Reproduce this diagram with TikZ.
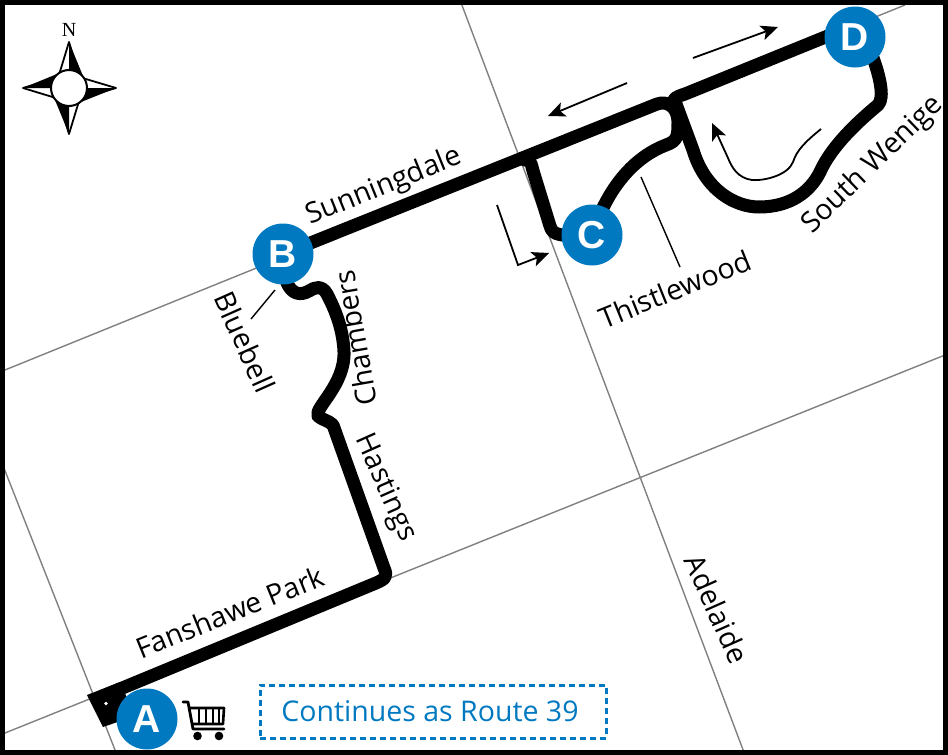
\documentclass[tikz,border=0pt]{standalone}
\usepackage{fontspec}
\setmainfont{Open Sans}
\newfontfamily\stopfont{Liberation Sans}
\newfontfamily\compassfont{Liberation Serif}
\usepackage{tikz}
\usetikzlibrary{arrows.meta}
\definecolor{routeblue}{HTML}{0079C1}

\begin{document}
\begin{tikzpicture}[
    x=1pt, y=-1pt,
    >={Stealth[length=17pt, width=15pt, inset=4pt]},
    road/.style={draw=black!50, line width=1.4pt},
    route/.style={draw, line width=13pt, line join=round, line cap=round},
    thin arrow/.style={draw, line width=1.8pt, ->},
    leader/.style={draw, line width=1.4pt},
    stopdot/.style={circle, fill=routeblue, text=white, minimum size=61pt, inner sep=0pt,
      font=\stopfont\fontsize{39}{39}\selectfont\bfseries},
    street/.style={font=\fontsize{28.5}{28.5}\selectfont, inner sep=0pt},
  ]
  \useasboundingbox (0,0) rectangle (948,755);

  %% --- Streets (grey lines) ---
  \draw[road] (0,372) -- (905,5);
  \draw[road] (0,735) -- (945,355);
  \draw[road] (460,0) -- (745,755);
  \draw[road] (0,458) -- (117,755);

  %% --- Route coordinates ---
  \coordinate (Apos) at (147,719);
  \coordinate (Bpos) at (283,254);
  \coordinate (Cpos) at (592,235);
  \coordinate (Dpos) at (855,37);
  \coordinate (start) at (103,696);
  \coordinate (parkend) at (376,583);
  \coordinate (hastop) at (333,425);
  \coordinate (junction) at (525,160);
  \coordinate (Dline) at (850,27);

  %% --- Route (thick line) ---
  % A to B
  \draw[route] (start) -- (parkend)
    .. controls (385,579) and (388,577) .. (384,568) -- (hastop)
    .. controls (328,420) and (322,420) .. (318,416)
    .. controls (314,408) and (345,385) .. (344,352)
    .. controls (343,325) and (332,304) .. (327,294)
    .. controls (322,285) and (315,287) .. (309,291)
    .. controls (300,296) and (292,294) .. (287,283) -- (Bpos);
  % B to D, with the step at the loop
  \draw[route] (Bpos) -- (657,104)
    .. controls (668,100) and (678,108) .. (678,122)
    .. controls (678,135) and (678,141) .. (666,145)
    .. controls (640,155) and (610,180) .. (Cpos);
  \draw[route] (673,106) .. controls (672,98) and (676,97) .. (685,94) -- (Dline);
  % C spur
  \draw[route] (junction) .. controls (532,160) and (531,165) .. (534,174)
    -- (550,226) .. controls (553,236) and (560,236) .. (Cpos);
  % South Wenige loop
  \draw[route] (676,104) -- (693,150)
    .. controls (705,190) and (735,207) .. (759,207)
    .. controls (790,207) and (810,192) .. (820,172)
    .. controls (832,145) and (860,120) .. (878,105)
    .. controls (885,98) and (880,75) .. (870,50) -- (Dpos);
  % terminal block at A
  \draw[fill=black, draw=none] (87,695) -- (120,682) -- (135,716) -- (103,727) -- cycle;
  \fill[white] (106,703.5) circle (1.8);

  %% --- Direction arrows ---
  \draw[thin arrow] (693,58) -- (778,27);
  \draw[thin arrow] (627,83) -- (548,116);
  \draw[thin arrow] (497,205) -- (518,265) -- (549,253);
  \draw[thin arrow] (821,129) .. controls (805,142) and (797,150) .. (793,162)
    .. controls (788,175) and (765,181) .. (752,180)
    .. controls (738,178) and (732,168) .. (728,158) -- (712,123);

  %% --- Leader lines ---
  \draw[leader] (641,177) -- (680,267);
  \draw[leader] (275,290) -- (251,319);

  %% --- Street names ---
  \node[street, rotate=22] (sunningdale) at (384,187) {Sunningdale};
  \node[street, rotate=22] (thistlewood) at (675,289) {Thistlewood};
  \node[street, rotate=44] (southwenige) at (873,165) {South Wenige};
  \node[street, rotate=22] (fanshawe) at (230,612) {Fanshawe Park};
  \node[street, rotate=-66] (hastings) at (385,488) {Hastings};
  \node[street, rotate=-66] (bluebell) at (245,342) {Bluebell};
  \node[street, rotate=-66] (adelaide) at (717,609) {Adelaide};
  \node[street, rotate=100] (chambers) at (355,338) {Chambers};

  %% --- Stops (blue circles) ---
  \node[stopdot] (A) at (Apos) {A};
  \node[stopdot] (B) at (Bpos) {B};
  \node[stopdot] (C) at (Cpos) {C};
  \node[stopdot] (D) at (Dpos) {D};

  %% --- Continuation box ---
  \node[draw=routeblue, dashed, line width=3pt, dash pattern=on 6pt off 4pt, text=routeblue,
    minimum width=346pt, minimum height=53pt, inner sep=0pt,
    font=\fontsize{28.5}{28.5}\selectfont] (continues) at (433,711.5) {\hspace*{-6pt}Continues as Route 39};

  %% --- Shopping cart ---
  \draw[line width=2.8pt, line cap=round, line join=round]
    (183,702) -- (188,702) -- (193,729) -- (224,729);
  \draw[line width=2.6pt, line join=round]
    (190,708) -- (224,708) -- (223,724) -- (192,724);
  \foreach \cartx in {199,206,213,219}
    \draw[line width=2pt] (\cartx,708) -- (\cartx,724);
  \fill (197.5,736) circle (4.3);
  \fill (219,736) circle (4.3);

  %% --- Compass ---
  \node[font=\compassfont\fontsize{20}{20}\selectfont, inner sep=0pt] (north) at (69,30) {N};
  \draw[line width=1.8pt, line join=round, fill=white] (69,42) -- (83,88) -- (69,134) -- (55,88) -- cycle;
  \draw[line width=1.8pt, line join=round, fill=white] (23,88) -- (69,74) -- (116,88) -- (69,102) -- cycle;
  \fill (69,42) -- (83,76) -- (69,88) -- cycle;
  \fill (116,88) -- (81,102) -- (69,88) -- cycle;
  \fill (69,134) -- (55,100) -- (69,88) -- cycle;
  \fill (23,88) -- (57,74) -- (69,88) -- cycle;
  \draw[line width=2pt, fill=white] (69,88) circle (18);

  %% --- Frame ---
  \draw[line width=5pt] (2.5,2.5) rectangle (945.5,752.5);
\end{tikzpicture}
\end{document}
